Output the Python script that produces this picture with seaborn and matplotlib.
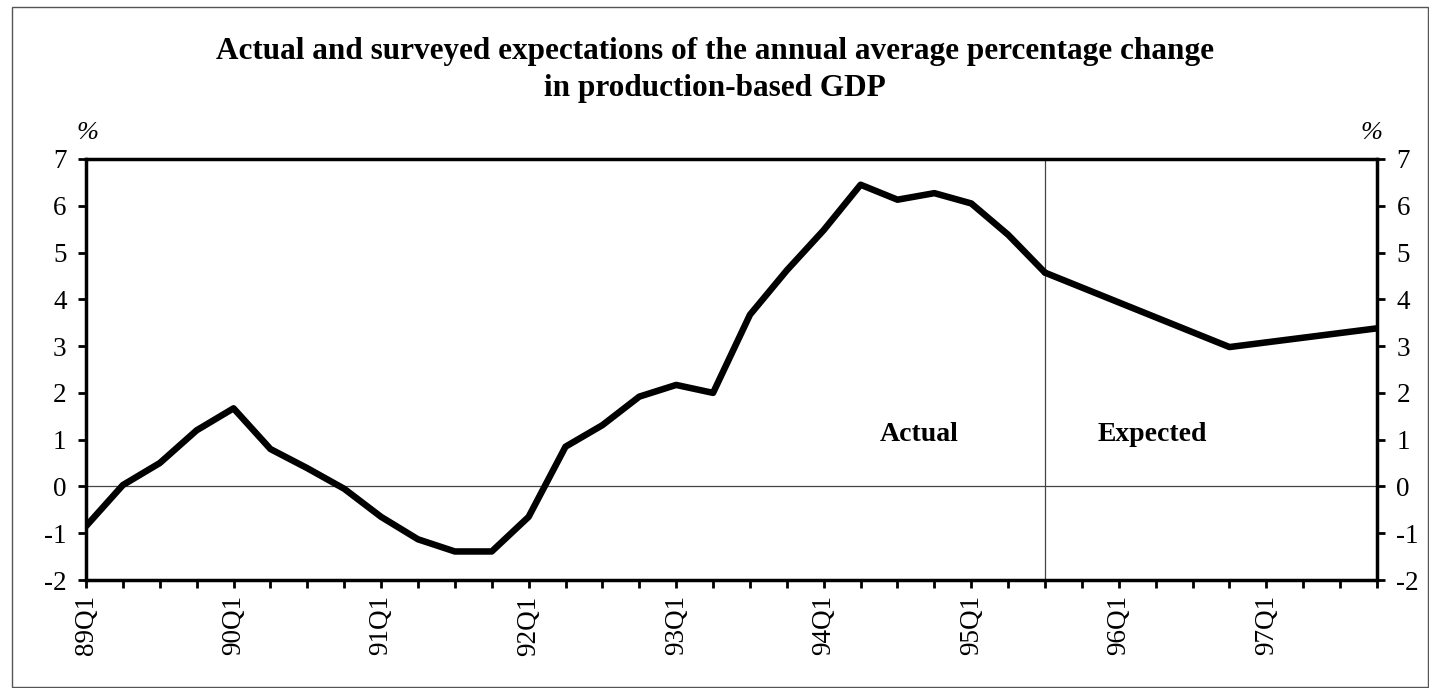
import numpy as np
import pandas as pd
import matplotlib
matplotlib.use("Agg")
import matplotlib.pyplot as plt
import seaborn as sns
from matplotlib.patches import Rectangle

# ---- data ----
quarters = [f"{y}Q{q}" for y in range(89, 98) for q in range(1, 5)]
actual_quarters = quarters[:27]  # 89Q1 .. 95Q3
actual_values = [-0.85, 0.03, 0.5, 1.2, 1.67, 0.8, 0.39, -0.05, -0.65, -1.13,
                 -1.39, -1.39, -0.65, 0.85, 1.31, 1.92, 2.17, 2.0, 3.67, 4.62,
                 5.48, 6.45, 6.13, 6.27, 6.05, 5.38, 4.57]
expected_quarters = ["95Q3", "96Q4", "97Q4"]
expected_values = [4.57, 2.98, 3.38]
year_labels = ["89Q1", "90Q1", "91Q1", "92Q1", "93Q1", "94Q1", "95Q1", "96Q1", "97Q1"]

title = "Actual and surveyed expectations of the annual average percentage change\nin production-based GDP"

pos = {q: i for i, q in enumerate(quarters)}
df = pd.DataFrame({
    "x": [pos[q] for q in actual_quarters] + [pos[q] for q in expected_quarters],
    "value": actual_values + expected_values,
    "series": ["Actual"] * len(actual_values) + ["Expected"] * len(expected_values),
})

sns.set_theme(style="white")
plt.rcParams["font.family"] = ["Liberation Serif", "DejaVu Serif"]
plt.rcParams["text.color"] = "black"
plt.rcParams["xtick.color"] = "black"
plt.rcParams["ytick.color"] = "black"

fig = plt.figure(figsize=(14.29, 6.88), dpi=100)
ax = fig.add_axes([86 / 1429, 1 - 580 / 688, (1377 - 86) / 1429, (580 - 159) / 688])

sns.lineplot(data=df, x="x", y="value", hue="series", palette=["black", "black"],
             linewidth=4.7, legend=False, ax=ax, sort=False)

ax.set_xlim(0, len(quarters) - 1)
ax.set_ylim(-2, 7)
ax.axhline(0, color="#444444", linewidth=0.9, zorder=1)
ax.axvline(pos["95Q3"], color="#444444", linewidth=0.9, zorder=1)

ax.set_xticks(range(len(quarters)))
ax.set_xticklabels([q if q in year_labels else "" for q in quarters],
                   rotation=90, fontsize=19.5)
ax.set_yticks(range(-2, 8))
ax.set_yticklabels([str(v) for v in range(-2, 8)], fontsize=19.5)
ax.tick_params(axis="both", direction="out", length=6, width=2, color="black",
               labelcolor="black", bottom=True, left=True, right=True, labelright=True)
ax.tick_params(axis="x", pad=5)
ax.tick_params(axis="y", pad=8)
for s in ax.spines.values():
    s.set_visible(True)
    s.set_color("black")
    s.set_linewidth(2.5)
ax.set_xlabel("")
ax.set_ylabel("")
ax.grid(False)

ax.text(pos["94Q3"] + 0.6, 1.1, "Actual", fontsize=20, fontweight="bold",
        ha="center", va="center", color="black")
ax.text(pos["96Q2"] - 0.1, 1.1, "Expected", fontsize=20, fontweight="bold",
        ha="center", va="center", color="black")

fig.text(88 / 1429, 1 - 133 / 688, "%", fontsize=19, style="italic", ha="center", va="center")
fig.text(1372 / 1429, 1 - 133 / 688, "%", fontsize=19, style="italic", ha="center", va="center")

fig.text(0.5, 1 - 70 / 688, title, fontsize=22.5, fontweight="bold",
         ha="center", va="center", linespacing=1.35)

fig.patches.append(Rectangle((12 / 1429, 0.002), 1 - 12 / 1429 - 0.001, 1 - 7 / 688 - 0.002,
                             transform=fig.transFigure, fill=False,
                             edgecolor="#555555", linewidth=1))

fig.savefig("out.png", dpi=100, facecolor="white")
